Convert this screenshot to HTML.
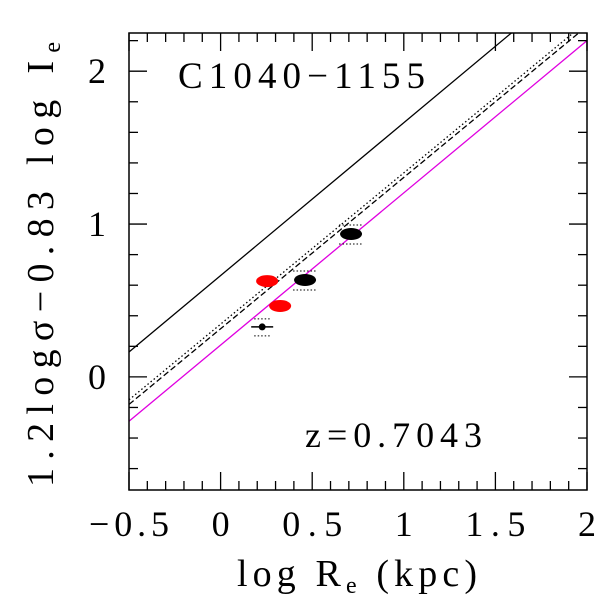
<!DOCTYPE html>
<html><head><meta charset="utf-8"><style>body{margin:0;background:#fff}svg{display:block}text{font-family:"Liberation Serif",serif;fill:#000}</style></head>
<body>
<svg id="c" width="600" height="600" xmlns="http://www.w3.org/2000/svg"></svg>
<script>
const xTicks=[-0.5,0,0.5,1,1.5,2];
const xTickLabels=["\u22120.5","0","0.5","1","1.5","2"];
const yTicks=[0,1,2];
const yTickLabels=["0","1","2"];
const ptX=[0.254,0.325,0.461,0.712,0.227];
const ptY=[0.627,0.464,0.634,0.935,0.327];
const ptColor=["red","red","black","black","black"];
const ptKind=["big","big","big","big","small"];
const lineA=[-0.5,0.163,1.0];
const lineDash=[-0.5,-0.18,0.99];
const lineDot=[-0.5,-0.15,0.99];
const lineMag=[-0.5,-0.29,0.996];
const X0=-0.5,X1=2,Y0=-0.74,Y1=2.25,L=129,R=587,T=33,B=490;
const sx=v=>L+(v-X0)/(X1-X0)*(R-L), sy=v=>B-(v-Y0)/(Y1-Y0)*(B-T);
const svg=document.getElementById('c');const NS="http://www.w3.org/2000/svg";
function mk(t,a,p){const e=document.createElementNS(NS,t);for(const k in a)e.setAttribute(k,a[k]);(p||svg).appendChild(e);return e;}
const clip=mk('clipPath',{id:'cp'});mk('rect',{x:L,y:T,width:R-L,height:B-T},clip);
function line(p,st,name){const xe=X1;const g=mk('line',{x1:sx(p[0]),y1:sy(p[1]),x2:sx(xe),y2:sy(p[1]+p[2]*(xe-p[0])),stroke:st.c,'stroke-width':st.w||1.3,'stroke-dasharray':st.d||'none','clip-path':'url(#cp)'});

}
line(lineA,{c:'#000'},'fit-line-solid');
line(lineDash,{c:'#000',d:'6 3'},'fit-line-dashed');
line(lineDot,{c:'#000',d:'1.5 2.5'},'fit-line-dotted');
line(lineMag,{c:'#e000e0'},'fit-line-magenta');
for(let i=0;i<ptX.length;i++){const cx=sx(ptX[i]),cy=sy(ptY[i]);
 if(ptKind[i]==='big'){
  if(ptColor[i]==='black'){mk('line',{x1:cx-12,y1:cy-9,x2:cx+12,y2:cy-9,stroke:'#000','stroke-dasharray':'1.5 2'});mk('line',{x1:cx-12,y1:cy+10,x2:cx+12,y2:cy+10,stroke:'#000','stroke-dasharray':'1.5 2'});}
  const e=mk('ellipse',{cx,cy,rx:11,ry:6,fill:ptColor[i]});
  
  
 } else {
  mk('line',{x1:cx-11,y1:cy,x2:cx+11,y2:cy,stroke:'#000','stroke-width':1.5});
  mk('line',{x1:cx-8,y1:cy-8,x2:cx+8,y2:cy-8,stroke:'#000','stroke-dasharray':'1.5 2'});
  mk('line',{x1:cx-8,y1:cy+9,x2:cx+8,y2:cy+9,stroke:'#000','stroke-dasharray':'1.5 2'});
  const e=mk('circle',{cx,cy,r:3.5,fill:'#000'});
  
  
 }}
const f=mk('rect',{x:L,y:T,width:R-L,height:B-T,fill:'none',stroke:'#000','stroke-width':1.5});


for(let k=0;k<=25;k++){const v=X0+k*0.1,x=sx(v),len=(k%5===0)?18:9;
 mk('line',{x1:x,y1:B,x2:x,y2:B-len,stroke:'#000','stroke-width':1.3});mk('line',{x1:x,y1:T,x2:x,y2:T+len,stroke:'#000','stroke-width':1.3});}
for(let k=-3;k<=11;k++){const v=k*0.2;if(v<Y0||v>Y1)continue;const y=sy(v),len=(k%5===0)?18:9;
 mk('line',{x1:L,y1:y,x2:L+len,y2:y,stroke:'#000','stroke-width':1.3});mk('line',{x1:R,y1:y,x2:R-len,y2:y,stroke:'#000','stroke-width':1.3});}
xTicks.forEach((v,i)=>{const s=xTickLabels[i];const t=mk('text',{x:sx(v),y:536,'font-size':36,'text-anchor':'middle',textLength:s.length*20,lengthAdjust:'spacing'});t.textContent=s;
 
 });
yTicks.forEach((v,i)=>{const t=mk('text',{x:106,y:sy(v)+12,'font-size':36,'text-anchor':'end'});t.textContent=yTickLabels[i];
 
 });
</script>
<svg width="600" height="600" style="position:absolute;left:0;top:0" xmlns="http://www.w3.org/2000/svg">
<text x="178" y="88" font-size="37" textLength="247" lengthAdjust="spacing" style="font-family:'Liberation Serif',serif">C1040&#8722;1155</text>
<text x="305" y="447" font-size="36" textLength="177" lengthAdjust="spacing" style="font-family:'Liberation Serif',serif">z=0.7043</text>
<text x="237" y="586" font-size="38" textLength="240" lengthAdjust="spacing" style="font-family:'Liberation Serif',serif">log R<tspan font-size="24" dy="7">e</tspan><tspan dy="-7"> (kpc)</tspan></text>
<text transform="translate(53,487) rotate(-90)" font-size="38" textLength="445" lengthAdjust="spacing" style="font-family:'Liberation Serif',serif">1.2log&#963;&#8722;0.83 log I<tspan font-size="24" dy="7">e</tspan></text>
</svg>
</body></html>
